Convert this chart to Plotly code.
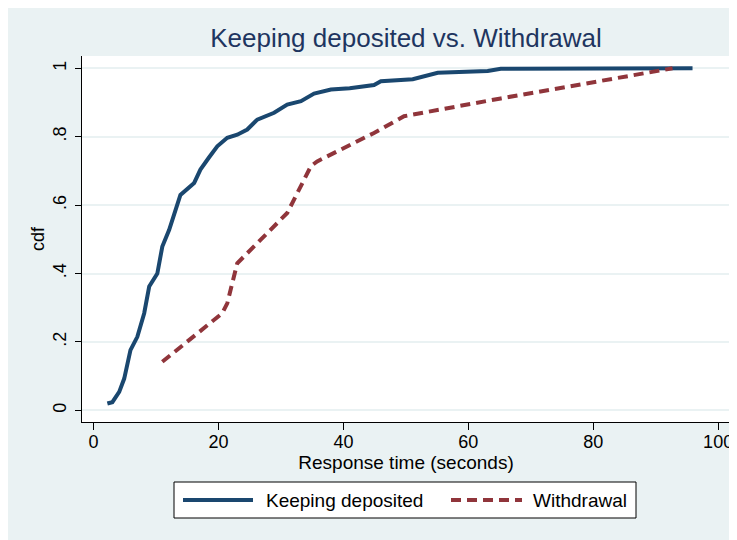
import plotly.graph_objects as go

# ---- data ----
keep_x = [2.2, 3.0, 4.1, 4.9, 5.9, 7.0, 8.1, 8.9, 10.2, 11.0, 12.1, 12.9, 13.9, 16.1,
          17.1, 18.5, 19.8, 21.4, 23.0, 24.6, 26.2, 28.9, 31.0, 33.2, 35.3, 38.0, 41.0,
          44.9, 46.0, 51.1, 55.1, 63.1, 65.2, 95.9]
keep_y = [0.020, 0.024, 0.054, 0.093, 0.176, 0.215, 0.284, 0.362, 0.400, 0.479, 0.528,
          0.577, 0.630, 0.665, 0.704, 0.740, 0.772, 0.797, 0.806, 0.821, 0.850, 0.870,
          0.894, 0.904, 0.926, 0.938, 0.942, 0.951, 0.962, 0.968, 0.987, 0.992, 0.999, 1.000]

withdraw_x = [11.0, 20.6, 21.4, 23.0, 31.0, 31.8, 34.8, 35.8, 44.9, 49.7, 65.2, 92.7]
withdraw_y = [0.142, 0.284, 0.313, 0.430, 0.577, 0.606, 0.714, 0.728, 0.811, 0.860, 0.912, 1.000]

x_ticks = [0, 20, 40, 60, 80, 100]
y_ticks = [0, 0.2, 0.4, 0.6, 0.8, 1]
y_tick_labels = ["0", ".2", ".4", ".6", ".8", "1"]

title_text = "Keeping deposited vs. Withdrawal"
x_title = "Response time (seconds)"
y_title = "cdf"
names = ["Keeping deposited", "Withdrawal"]

# ---- styles ----
BG = "#EAF2F3"
NAVY = "#1A476F"
MAROON = "#90353B"
FONT = "Liberation Sans, Arial, sans-serif"
DASH = "10px,6px"

# The page body adds an 8px offset; layout numbers below are in figure pixels.
W, H = 737, 540
L, R, T, B = 74, 15, 48, 126
pw, ph = W - L - R, H - T - B


def px_x(px):
    return (px - L) / pw


def px_y(py):
    return (H - B - py) / ph


fig = go.Figure()
fig.add_trace(go.Scatter(x=keep_x, y=keep_y, mode="lines", name=names[0],
                         line=dict(color=NAVY, width=4), showlegend=False))
fig.add_trace(go.Scatter(x=withdraw_x, y=withdraw_y, mode="lines", name=names[1],
                         line=dict(color=MAROON, width=4, dash=DASH), showlegend=False))

# ---- hand-built legend (Stata style, long line samples) ----
leg_y = 492
box_l, box_r, box_t, box_b = 166, 628, 474, 510
shapes = [
    dict(type="rect", xref="paper", yref="paper",
         x0=px_x(box_l), x1=px_x(box_r), y0=px_y(box_b), y1=px_y(box_t),
         fillcolor="white", line=dict(color="black", width=1)),
    dict(type="line", xref="paper", yref="paper",
         x0=px_x(175), x1=px_x(245), y0=px_y(leg_y), y1=px_y(leg_y),
         line=dict(color=NAVY, width=4)),
    dict(type="line", xref="paper", yref="paper",
         x0=px_x(443), x1=px_x(514), y0=px_y(leg_y), y1=px_y(leg_y),
         line=dict(color=MAROON, width=4, dash=DASH)),
]
annotations = [
    dict(text=names[0], xref="paper", yref="paper", x=px_x(256), y=px_y(leg_y),
         xanchor="left", yanchor="middle", showarrow=False,
         font=dict(size=19, color="black", family=FONT)),
    dict(text=names[1], xref="paper", yref="paper", x=px_x(523), y=px_y(leg_y),
         xanchor="left", yanchor="middle", showarrow=False,
         font=dict(size=19, color="black", family=FONT)),
]

fig.update_layout(
    width=W, height=H,
    margin=dict(l=L, r=R, t=T, b=B, autoexpand=False),
    paper_bgcolor=BG, plot_bgcolor="white",
    font=dict(family=FONT, color="black", size=18),
    title=dict(text=title_text, x=(L + pw / 2) / W, xanchor="center",
               y=1 - 30 / H, yanchor="middle",
               font=dict(family=FONT, size=26, color="#1E3560")),
    showlegend=False,
    shapes=shapes,
    annotations=annotations,
)

fig.update_xaxes(range=[-1.86, 101.9], tickvals=x_ticks, ticks="outside", ticklen=7,
                 tickcolor="black", showline=True, linecolor="black", linewidth=1,
                 showgrid=False, zeroline=False, mirror=False,
                 ticklabelstandoff=-4,
                 title=dict(text=x_title, standoff=5, font=dict(size=19)),
                 tickfont=dict(size=18))
fig.update_yaxes(range=[-0.034, 1.036], tickvals=y_ticks, ticktext=y_tick_labels,
                 tickangle=-90, ticks="outside", ticklen=6, tickcolor="black",
                 showline=True, linecolor="black", linewidth=1,
                 showgrid=True, gridcolor=BG, gridwidth=1.5, zeroline=False,
                 ticklabelstandoff=2,
                 title=dict(text=y_title, standoff=0, font=dict(size=18)),
                 tickfont=dict(size=18))

fig.write_html("out.html")
